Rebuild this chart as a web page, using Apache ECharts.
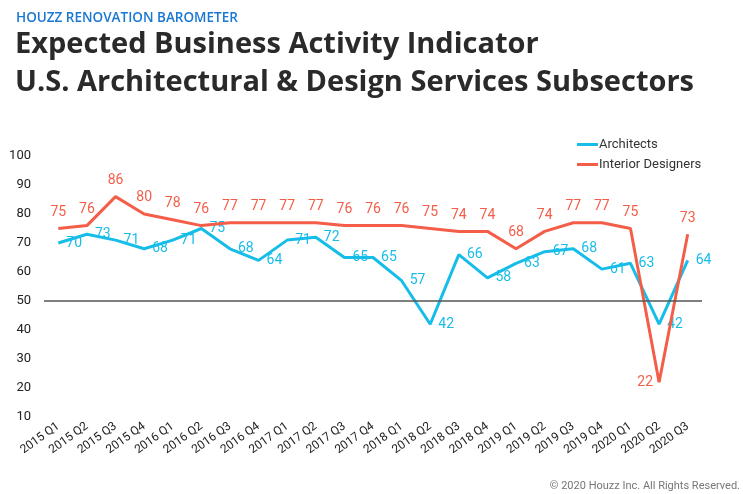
<!DOCTYPE html>
<html>
<head>
<meta charset="utf-8">
<script src="https://cdn.jsdelivr.net/npm/echarts@6/dist/echarts.min.js"></script>
<style>
html,body{margin:0;padding:0;background:#fff;}
#chart{width:743px;height:494px;}
</style>
</head>
<body>
<div id="chart"></div>
<script>
var categories = ['2015 Q1','2015 Q2','2015 Q3','2015 Q4','2016 Q1','2016 Q2','2016 Q3','2016 Q4','2017 Q1','2017 Q2','2017 Q3','2017 Q4','2018 Q1','2018 Q2','2018 Q3','2018 Q4','2019 Q1','2019 Q2','2019 Q3','2019 Q4','2020 Q1','2020 Q2','2020 Q3'];
var architects = [70,73,71,68,71,75,68,64,71,72,65,65,57,42,66,58,63,67,68,61,63,42,64];
var interiorDesigners = [75,76,86,80,78,76,77,77,77,77,76,76,76,75,74,74,68,74,77,77,75,22,73];
var referenceValue = 50;
var leftLabelCategory = '2020 Q2';

var FONT = 'Roboto, "Open Sans", sans-serif';
var TFONT = '"Open Sans", Roboto, sans-serif';
var CYAN = '#17bde9';
var CORAL = '#f45e49';

var interiorData = interiorDesigners.map(function (v, i) {
  if (categories[i] === leftLabelCategory) {
    return {value: v, label: {position: 'left', distance: 6}};
  }
  return v;
});

var chart = echarts.init(document.getElementById('chart'), null, {renderer:'canvas'});
chart.setOption({
  animation: false,
  backgroundColor: '#ffffff',
  textStyle: {fontFamily: FONT},
  title: [
    {text: 'HOUZZ RENOVATION BAROMETER', left: 16, top: 11, padding: 0,
     textStyle: {color: '#1a78d3', fontSize: 13.5, fontWeight: 600, fontFamily: TFONT}},
    {text: 'Expected Business Activity Indicator\nU.S. Architectural & Design Services Subsectors', left: 15, top: 26, padding: 0,
     textStyle: {color: '#2a2a2a', fontSize: 29, lineHeight: 37.5, fontWeight: 'bold', fontFamily: TFONT}},
    {text: '\u00a9 2020 Houzz Inc. All Rights Reserved.', right: 3, bottom: 2, padding: 0,
     textStyle: {color: '#777', fontSize: 11, fontWeight: 'normal', fontFamily: FONT}}
  ],
  legend: {
    data: [
      {name: 'Architects', itemStyle: {color: CYAN, opacity: 1}},
      {name: 'Interior Designers', itemStyle: {color: CORAL, opacity: 1}}
    ],
    orient: 'vertical', left: 577, top: 138, padding: 0,
    itemWidth: 21, itemHeight: 3, itemGap: 7, icon: 'rect',
    textStyle: {color: '#333', fontSize: 13, fontFamily: FONT, padding: [0,0,0,-4]}
  },
  grid: {left: 44, right: 41, top: 156, bottom: 77},
  xAxis: {
    type: 'category', data: categories, boundaryGap: true,
    axisLine: {show: false}, axisTick: {show: false},
    axisLabel: {rotate: 36, interval: 0, fontSize: 12, color: '#222', margin: 8, fontFamily: FONT}
  },
  yAxis: {
    type: 'value', min: 10, max: 100, interval: 10,
    axisLine: {show: false}, axisTick: {show: false}, splitLine: {show: false},
    axisLabel: {fontSize: 13, color: '#222', margin: 13, fontFamily: FONT}
  },
  series: [
    {name: 'ref', type: 'line', data: [], z: 1, silent: true,
     markLine: {silent: true, symbol: 'none', label: {show: false},
       lineStyle: {color: '#555', width: 1.5, type: 'solid'},
       data: [{yAxis: referenceValue}]}},
    {name: 'Architects', type: 'line', data: architects, z: 3,
     symbol: 'circle', symbolSize: 0.1, showSymbol: true, color: CYAN,
     itemStyle: {color: CYAN},
     lineStyle: {color: CYAN, width: 3},
     label: {show: true, position: 'right', distance: 8, color: CYAN, fontSize: 14, fontFamily: FONT}},
    {name: 'Interior Designers', type: 'line', data: interiorData, z: 4,
     symbol: 'circle', symbolSize: 0.1, showSymbol: true, color: CORAL,
     itemStyle: {color: CORAL},
     lineStyle: {color: CORAL, width: 3},
     label: {show: true, position: 'top', distance: 9, color: CORAL, fontSize: 14, fontFamily: FONT}}
  ]
});
</script>
</body>
</html>
